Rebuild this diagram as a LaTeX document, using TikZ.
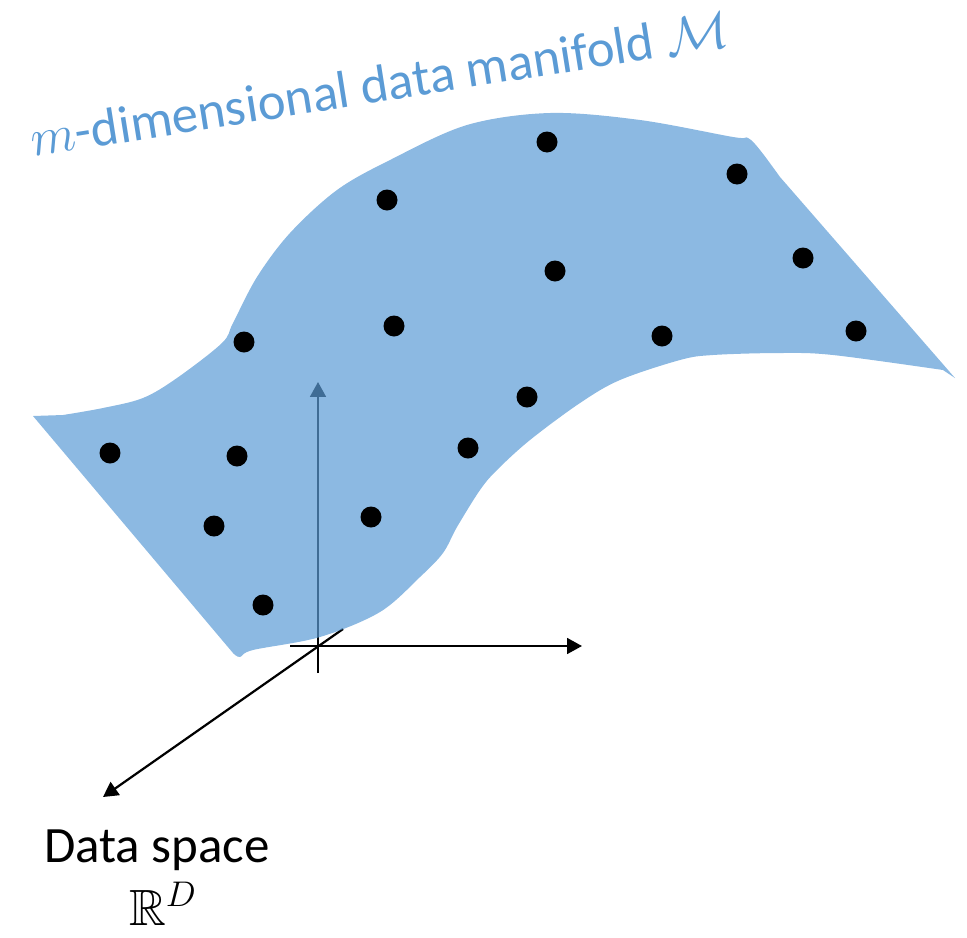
\RequirePackage{fix-cm}
\documentclass[tikz,border=0pt]{standalone}
\usepackage{amssymb,amsmath}
\usepackage{fontspec}
\setmainfont{Carlito}
\usepackage{xcolor}
\usetikzlibrary{arrows.meta}
\definecolor{officeblue}{HTML}{5B9BD5}

\begin{document}
\begin{tikzpicture}[x=0.02cm,y=-0.02cm]
  \useasboundingbox (0,0) rectangle (967,937);
  % Define styles
  \tikzset{manifold/.style={fill=officeblue, fill opacity=0.7}}
  \tikzset{datapoint/.style={circle, fill=black, inner sep=0pt, minimum size=0.42cm}}
  \tikzset{axis/.style={line width=1.25pt, -{Triangle[length=8.5pt,width=9pt]}}}
  % Define the ends of the axes
  \coordinate (O) at (318,646);
  \coordinate (xstart) at (290,646);
  \coordinate (xend) at (582,646);
  \coordinate (ystart) at (318,673);
  \coordinate (yend) at (318,382);
  \coordinate (zstart) at (343,629);
  \coordinate (zend) at (103,797);
  % Draw the axes (behind the manifold)
  \draw[axis] (xstart) -- (xend);
  \draw[axis] (ystart) -- (yend);
  \draw[axis] (zstart) -- (zend);
  % Draw the manifold
  \fill[manifold] (33,416)
    -- plot[smooth, tension=0.55] coordinates {(63,415) (103,408) (143,398) (177,378) (222,343) (233,323) (257,277) (290,233) (337,190) (390,160) (467,125) (550,113) (640,120) (733,137) (748,138) (760,150) (780,177)}
    -- (955,378)
    -- plot[smooth, tension=0.55] coordinates {(943,370) (833,355) (780,353) (713,355) (680,360) (620,380) (580,403) (530,440) (497,470) (480,490) (457,527) (443,553) (420,577) (380,612) (320,637) (253,650) (240,657) (233,653)}
    -- cycle;
  % Draw the data points
  \foreach \x/\y [count=\i] in {547/142, 737/174, 387/200, 555/271, 803/258, 394/326, 244/342, 662/336,
      856/331, 527/397, 110/453, 237/456, 468/448, 214/526, 371/517, 263/605}
    \node[datapoint] (p\i) at (\x,\y) {};
  % Labels
  \node[anchor=base west, rotate=9, inner sep=0pt, text=officeblue, font=\fontsize{30}{36}\selectfont] (title) at (33,157)
    {$m$-dimensional data manifold $\mathcal{M}$};
  \node[anchor=base, font=\fontsize{29}{35}\selectfont] (space) at (157,862) {Data space};
  \node[anchor=base, font=\fontsize{29}{35}\selectfont] (rd) at (163,925) {$\mathbb{R}^D$};
\end{tikzpicture}
\end{document}
